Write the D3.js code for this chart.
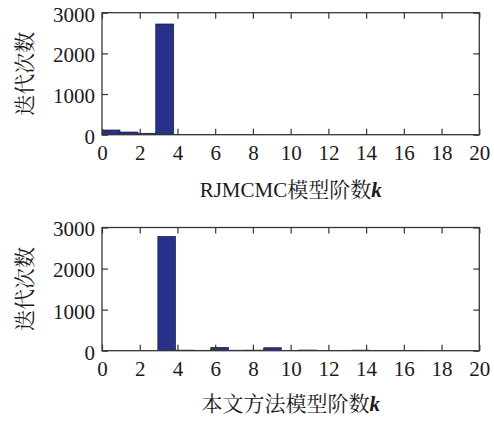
<!DOCTYPE html>
<html>
<head>
<meta charset="utf-8">
<script src="https://cdn.jsdelivr.net/npm/d3@7/dist/d3.min.js"></script>
</head>
<body style="margin:0">
<svg id="chart" width="494" height="421" style="display:block"></svg>
<script>
// Histogram of sampled model order k (iteration counts per bin)
const xTicks = [0, 2, 4, 6, 8, 10, 12, 14, 16, 18, 20];
const yTicks = [0, 1000, 2000, 3000];

// RJMCMC: 20 bins starting at k = 0
const rjBinStart = 0;
const rjBinWidth = 0.95;
const rjCounts = [115, 66, 35, 2722, 4, 3, 2, 2, 1, 1, 1, 1, 0, 0, 1, 0, 0, 0, 0, 1];

// Proposed method: 20 bins starting at k = 3
const ourBinStart = 2.96;
const ourBinWidth = 0.935;
const ourCounts = [2782, 14, 10, 80, 12, 14, 72, 6, 16, 4, 5, 14, 8, 3, 2, 1, 0, 0, 0, 0];

const serif = "Liberation Serif";
const cjkSerif = "Noto Serif CJK SC";

const panels = [
  { id: "a", counts: rjCounts, start: rjBinStart, width: rjBinWidth, top: 12.7, bottom: 134.7,
    xlabel: [["RJMCMC", "latin"], ["模型阶数", "cjk"], ["k", "italic"]], xlabelY: 197 },
  { id: "b", counts: ourCounts, start: ourBinStart, width: ourBinWidth, top: 227.5, bottom: 350.7,
    xlabel: [["本文方法模型阶数", "cjk"], ["k", "italic"]], xlabelY: 411 }
];

const svg = d3.select("#chart").attr("font-family", serif);
const left = 102, right = 479.3;
const axisColor = "#3b3434";
const textColor = "#1a1a1a";
const barFill = "#27318a";
const barStroke = "#14183f";

// apply a single font family both as attribute and inline style
function font(sel, fam, size) {
  return sel.attr("font-family", fam).attr("font-size", size)
    .style("font-family", `"${fam}"`).style("font-size", size + "px");
}

panels.forEach(p => {
  const x = d3.scaleLinear().domain([0, 20]).range([left, right]);
  const y = d3.scaleLinear().domain([0, 3000]).range([p.bottom, p.top]);
  const g = svg.append("g");

  svg.append("clipPath").attr("id", "clip-" + p.id)
    .append("rect").attr("x", left).attr("y", p.top)
    .attr("width", right - left).attr("height", p.bottom - p.top);

  const bins = p.counts.map((c, i) => ({ x0: p.start + i * p.width, x1: p.start + (i + 1) * p.width, c }));
  g.append("g").attr("clip-path", `url(#clip-${p.id})`)
    .selectAll("rect.bar").data(bins).join("rect")
    .attr("class", "bar")
    .attr("x", d => x(d.x0))
    .attr("width", d => x(d.x1) - x(d.x0))
    .attr("y", d => y(d.c))
    .attr("height", d => y(0) - y(d.c))
    .attr("fill", barFill)
    .attr("stroke", barStroke)
    .attr("stroke-width", 0.7);

  // inward ticks on all four sides
  const bottomAxis = d3.axisBottom(x).tickValues(xTicks).tickFormat(d3.format("d"))
    .tickSizeInner(-6).tickSizeOuter(0).tickPadding(10);
  const topAxis = d3.axisTop(x).tickValues(xTicks).tickFormat("")
    .tickSizeInner(-6).tickSizeOuter(0);
  const leftAxis = d3.axisLeft(y).tickValues(yTicks).tickFormat(d3.format("d"))
    .tickSizeInner(-6).tickSizeOuter(0).tickPadding(7);
  const rightAxis = d3.axisRight(y).tickValues(yTicks).tickFormat("")
    .tickSizeInner(-6).tickSizeOuter(0);

  const gb = g.append("g").attr("transform", `translate(0,${p.bottom})`).call(bottomAxis);
  const gt = g.append("g").attr("transform", `translate(0,${p.top})`).call(topAxis);
  const gl = g.append("g").attr("transform", `translate(${left},0)`).call(leftAxis);
  const gr = g.append("g").attr("transform", `translate(${right},0)`).call(rightAxis);
  [gb, gt, gl, gr].forEach(a => {
    font(a, serif, 21);
    a.select(".domain").remove();
    a.selectAll(".tick line").attr("stroke", axisColor).attr("stroke-width", 1.2);
    font(a.selectAll(".tick text"), serif, 21).attr("fill", textColor);
  });
  gl.selectAll(".tick text").attr("dy", "0.4em");

  g.append("rect")
    .attr("x", left).attr("y", p.top)
    .attr("width", right - left).attr("height", p.bottom - p.top)
    .attr("fill", "none").attr("stroke", axisColor).attr("stroke-width", 1.3);

  // y-axis title
  font(g.append("text"), cjkSerif, 21)
    .attr("transform", `translate(32,${(p.top + p.bottom) / 2}) rotate(-90)`)
    .attr("text-anchor", "middle")
    .attr("fill", textColor)
    .text("迭代次数");

  // x-axis title with bold italic k
  const t = font(g.append("text"), serif, 21)
    .attr("x", (left + right) / 2)
    .attr("y", p.xlabelY)
    .attr("text-anchor", "middle")
    .attr("fill", textColor);
  p.xlabel.forEach(([s, kind]) => {
    font(t.append("tspan"), kind === "cjk" ? cjkSerif : serif, 21)
      .attr("font-style", kind === "italic" ? "italic" : "normal")
      .attr("font-weight", kind === "italic" ? "bold" : "normal")
      .style("font-style", kind === "italic" ? "italic" : "normal")
      .style("font-weight", kind === "italic" ? "bold" : "normal")
      .text(s);
  });
});
</script>
</body>
</html>
